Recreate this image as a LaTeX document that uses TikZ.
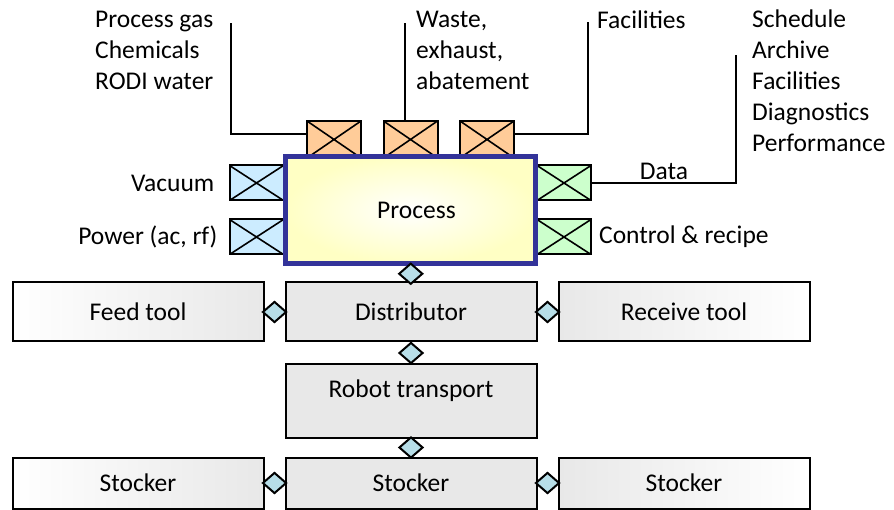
\documentclass[tikz,border=0pt]{standalone}
\usepackage{fontspec}
\setmainfont{Carlito}
\usetikzlibrary{positioning,calc,shapes.geometric}
\definecolor{portorange}{RGB}{255,204,153}
\definecolor{portblue}{RGB}{204,236,255}
\definecolor{portgreen}{RGB}{204,255,204}
\definecolor{procblue}{RGB}{51,51,153}
\definecolor{procyellow}{RGB}{255,255,196}
\definecolor{boxgray}{RGB}{232,232,232}
\definecolor{linkteal}{RGB}{183,222,232}
\tikzset{every node/.style = {font=\fontsize{25.5}{31}\selectfont},
  port/.style = {draw,line width=2pt,minimum width=54pt,minimum height=35pt,inner sep=0pt,
    path picture={\draw[line width=1.6pt] (path picture bounding box.north west) -- (path picture bounding box.south east)
      (path picture bounding box.south west) -- (path picture bounding box.north east);}},
  proc/.style = {draw=procblue,line width=5pt,minimum width=250pt,minimum height=107pt,
    shading=radial,inner color=white,outer color=procyellow},
  unit/.style = {draw,line width=2pt,minimum width=251pt,minimum height=59pt,fill=boxgray},
  link/.style = {diamond,draw,line width=2pt,fill=linkteal,inner sep=0pt,minimum width=24pt,minimum height=21pt},
  lbl/.style = {inner sep=0pt,align=left},
  wire/.style = {draw,line width=2pt}}
\begin{document}
\begin{tikzpicture}[x=1pt,y=-1pt]
\useasboundingbox (0,0) rectangle (894,510);
% supply ports on the chamber
\foreach \n/\x in {p1/334,p2/410.5,p3/487}
  \node[port,fill=portorange,minimum height=37pt] (\n) at (\x,139.5) {};
\foreach \n/\y in {1/183,2/237} {
  \node[port,fill=portblue] (l\n) at (256.5,\y) {};
  \node[port,fill=portgreen] (r\n) at (564,\y) {};
}
\node[proc] (proc) at (410.5,210) {\hspace*{12pt}Process};

% tool rows
\node[unit,left color=white,right color=boxgray] (feed) at (138,312) {Feed tool};
\node[unit] (dist) at (411,312) {Distributor};
\node[unit,left color=boxgray,right color=white] (recv) at (684,312) {Receive tool};
\node[unit,minimum height=73pt,text depth=24pt] (robot) at (411,401) {Robot transport};
\node[unit,minimum height=51pt,left color=white,right color=boxgray] (stk1) at (138,483) {Stocker};
\node[unit,minimum height=51pt] (stk2) at (411,483) {Stocker};
\node[unit,minimum height=51pt,left color=boxgray,right color=white] (stk3) at (684,483) {Stocker};

% interfaces
\node[link] (lkpd) at ($(proc.south)!.5!(dist.north)$) {};
\node[link] (lkfd) at ($(feed.east)!.5!(dist.west)$) {};
\node[link] (lkdr) at ($(dist.east)!.5!(recv.west)$) {};
\node[link] (lkdt) at ($(dist.south)!.5!(robot.north)$) {};
\node[link] (lkts) at ($(robot.south)!.5!(stk2.north)$) {};
\node[link] (lks12) at ($(stk1.east)!.5!(stk2.west)$) {};
\node[link] (lks23) at ($(stk2.east)!.5!(stk3.west)$) {};

% labels
\node[lbl,anchor=north west] (gas) at (95,10.5) {Process gas\\Chemicals\\RODI water};
\node[lbl,anchor=north west] (waste) at (416,10.5) {Waste,\\exhaust,\\abatement};
\node[lbl,anchor=north west] (fac) at (597,10.5) {Facilities};
\node[lbl,anchor=north west] (info) at (752,9.5) {Schedule\\Archive\\Facilities\\Diagnostics\\Performance};
\node[lbl,left=14pt of l1] (vac) {Vacuum};
\node[lbl,left=11pt of l2] (pwr) {Power (ac, rf)};
\node[lbl,right=7pt of r2] (ctl) {Control \& recipe};

% lines out to the labels
\coordinate (gastop) at (231,23);
\coordinate (wastetop) at (405,23);
\coordinate (factop) at (588,22);
\coordinate (datatop) at (736,55);
\draw[wire] ([yshift=5pt]p1.west) -| (gastop);
\draw[wire] (p2.north -| wastetop) -- (wastetop);
\draw[wire] ([yshift=5pt]p3.east) -| (factop);
\draw[wire] (r1.east) -| (datatop) node[lbl,pos=.25,above=2pt] (data) {Data};
\end{tikzpicture}
\end{document}
